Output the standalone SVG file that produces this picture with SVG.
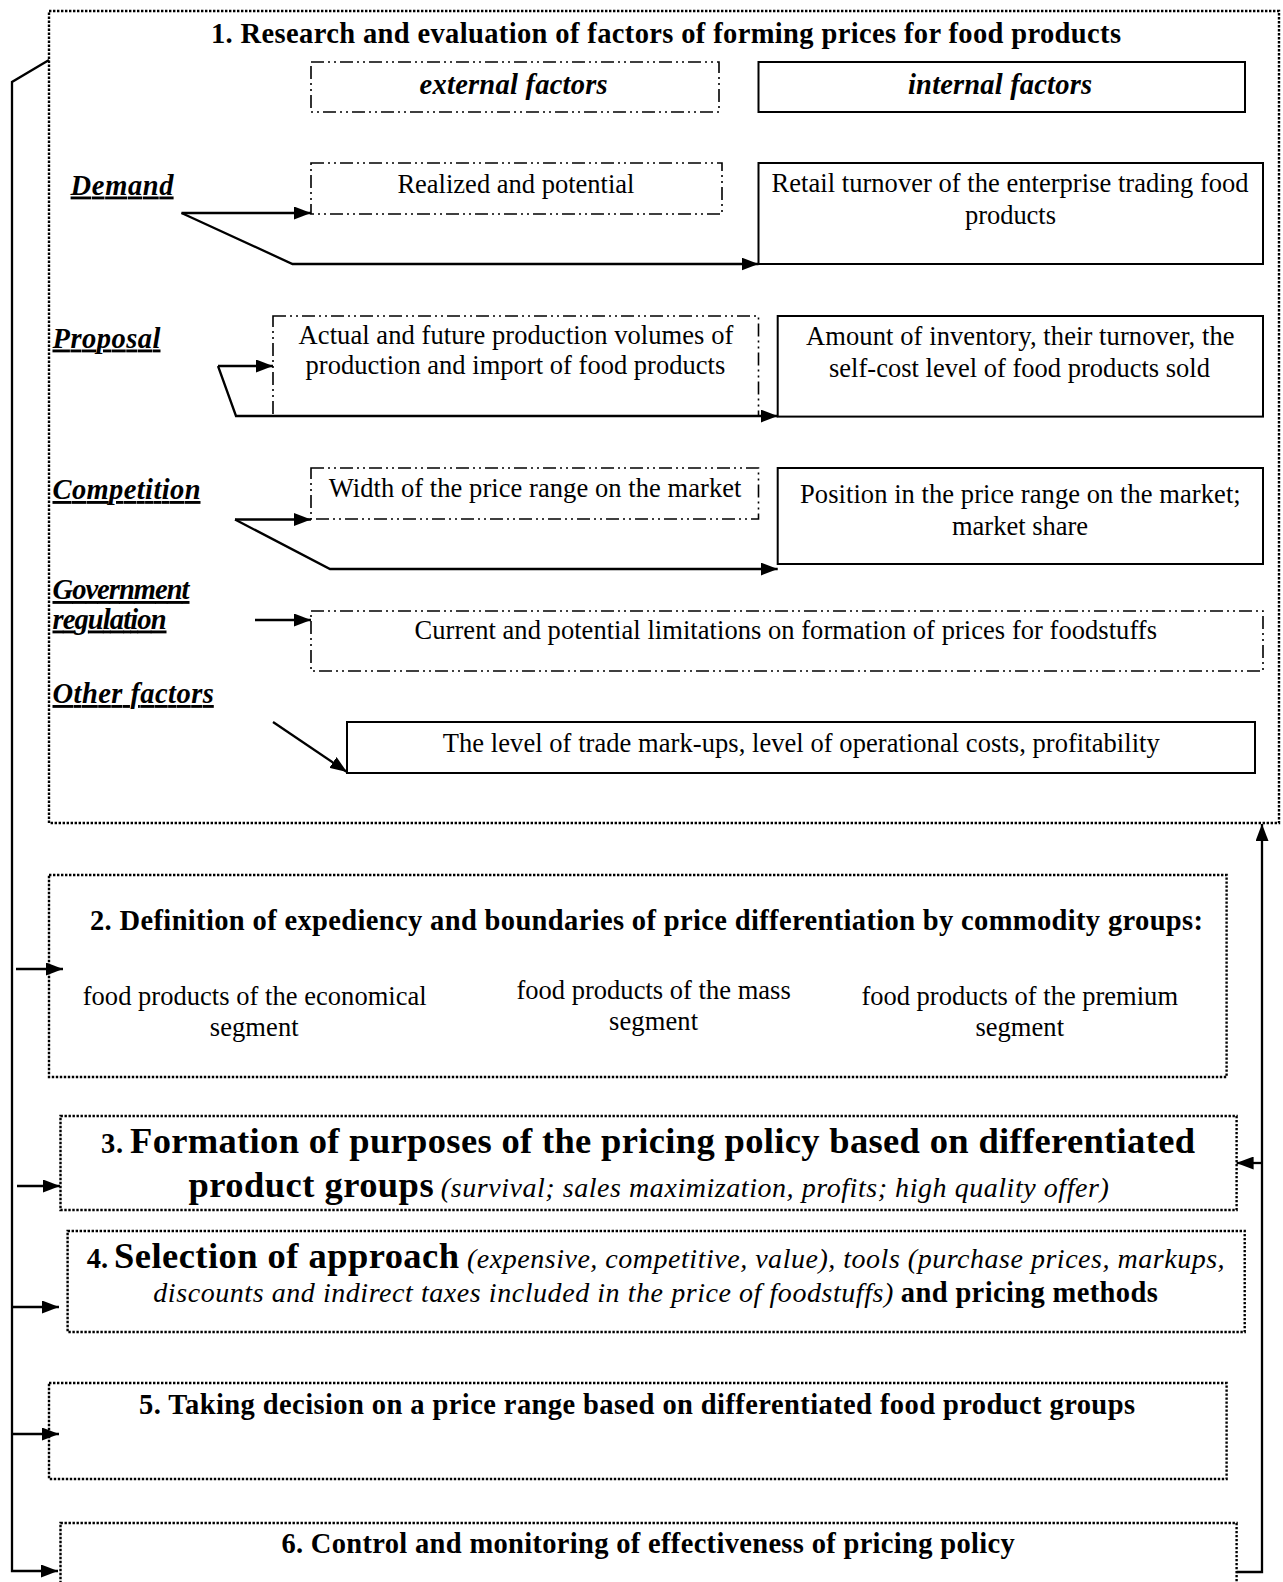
<svg xmlns="http://www.w3.org/2000/svg" width="1283" height="1582" viewBox="0 0 1283 1582">
<style>
.b{font-weight:bold;font-size:28.5px}
.bi{font-weight:bold;font-style:italic;font-size:28.5px}
.u{text-decoration:underline}
.r{font-size:26.5px}
.it{font-style:italic;font-size:28px}
.big{font-weight:bold;font-size:36.5px}
.dot{fill:none;stroke:#000;stroke-width:2.4;stroke-dasharray:2.4 1.6}
.dd{fill:none;stroke:#000;stroke-width:1.6;stroke-dasharray:13 4 2 4 2 4}
.sol{fill:none;stroke:#000;stroke-width:2}
.con{fill:none;stroke:#000;stroke-width:2.3}
</style>
<defs>
<marker id="ah" markerWidth="17" markerHeight="13" refX="17" refY="6.5" orient="auto" markerUnits="userSpaceOnUse"><path d="M0,0 L17,6.5 L0,13 z" fill="#000"/></marker>
</defs>
<rect width="1283" height="1582" fill="#fff"/>
<g font-family="Liberation Serif" fill="#000">
<g id="stage1">
<rect class="dot" x="49" y="11" width="1230" height="812"/>
<text class="b" x="211" y="43" textLength="910">1. Research and evaluation of factors of forming prices for food products</text>
</g>
<g id="external-factors">
<rect class="dd" x="311" y="62" width="408" height="50"/>
<text class="bi" x="419.6" y="94" textLength="188">external factors</text>
</g>
<g id="internal-factors">
<rect class="sol" x="758.5" y="62" width="486.5" height="50"/>
<text class="bi" x="908" y="94" textLength="184">internal factors</text>
</g>
<g id="demand">
<text class="bi u" x="70.6" y="194.5" textLength="103">Demand</text>
</g>
<g id="demand-ext">
<rect class="dd" x="311" y="163" width="411" height="51"/>
<text class="r" x="397.4" y="192.5" textLength="237">Realized and potential</text>
</g>
<g id="demand-int">
<rect class="sol" x="758.5" y="163" width="504.5" height="101"/>
<text class="r" x="771.6" y="191.6" textLength="477">Retail turnover of the enterprise trading food</text>
<text class="r" x="965" y="223.5" textLength="91">products</text>
</g>
<g id="proposal">
<text class="bi u" x="52.5" y="347.5" textLength="108">Proposal</text>
</g>
<g id="proposal-ext">
<rect class="dd" x="273" y="316" width="485.5" height="100"/>
<text class="r" x="298.6" y="343.5" textLength="434.7">Actual and future production volumes of</text>
<text class="r" x="305.6" y="374" textLength="419.7">production and import of food products</text>
</g>
<g id="proposal-int">
<rect class="sol" x="777.7" y="316" width="485.3" height="100.6"/>
<text class="r" x="806" y="345" textLength="428.6">Amount of inventory, their turnover, the</text>
<text class="r" x="829" y="377" textLength="381">self-cost level of food products sold</text>
</g>
<g id="competition">
<text class="bi u" x="52.5" y="499" textLength="148">Competition</text>
</g>
<g id="competition-ext">
<rect class="dd" x="311" y="468" width="447.5" height="51"/>
<text class="r" x="328.8" y="497" textLength="412.6">Width of the price range on the market</text>
</g>
<g id="competition-int">
<rect class="sol" x="777.7" y="468" width="485.3" height="96"/>
<text class="r" x="800" y="502.5" textLength="440.7">Position in the price range on the market;</text>
<text class="r" x="952" y="534.5" textLength="136">market share</text>
</g>
<g id="government">
<text class="bi u" x="52.5" y="599" textLength="137">Government</text>
<text class="bi u" x="52.5" y="628.5" textLength="114">regulation</text>
</g>
<g id="government-ext">
<rect class="dd" x="311" y="611" width="952" height="60"/>
<text class="r" x="414.6" y="638.5" textLength="742.4">Current and potential limitations on formation of prices for foodstuffs</text>
</g>
<g id="other">
<text class="bi u" x="52.5" y="703" textLength="161.3">Other factors</text>
</g>
<g id="other-int">
<rect class="sol" x="347" y="722" width="908" height="51"/>
<text class="r" x="442.8" y="751.5" textLength="717">The level of trade mark-ups, level of operational costs, profitability</text>
</g>

<g id="stage2">
<rect class="dot" x="49" y="875" width="1177.6" height="202"/>
<text class="b" x="90" y="930" textLength="1113">2. Definition of expediency and boundaries of price differentiation by commodity groups:</text>
<text class="r" x="82.7" y="1004.5" textLength="344">food products of the economical</text>
<text class="r" x="209.8" y="1035.5" textLength="88.8">segment</text>
<text class="r" x="516.4" y="998.5" textLength="274.4">food products of the mass</text>
<text class="r" x="609" y="1030" textLength="89">segment</text>
<text class="r" x="861.4" y="1004.5" textLength="316.6">food products of the premium</text>
<text class="r" x="975.4" y="1035.5" textLength="88.6">segment</text>
</g>
<g id="stage3">
<rect class="dot" x="60.5" y="1116" width="1176.1" height="94"/>
<text class="b" x="101" y="1153" textLength="22">3.</text>
<text class="big" x="130" y="1153" textLength="1065">Formation of purposes of the pricing policy based on differentiated</text>
<text class="big" x="188.6" y="1197" textLength="245">product groups</text>
<text class="it" x="440.8" y="1197" textLength="668">(survival; sales maximization, profits; high quality offer)</text>
</g>
<g id="stage4">
<rect class="dot" x="67.6" y="1231" width="1177.1" height="101"/>
<text class="b" x="86.7" y="1268" textLength="21.3">4.</text>
<text class="big" x="114" y="1268" textLength="345">Selection of approach</text>
<text class="it" x="467" y="1268" textLength="757.6">(expensive, competitive, value), tools (purchase prices, markups,</text>
<text class="it" x="153.3" y="1302" textLength="740">discounts and indirect taxes included in the price of foodstuffs)</text>
<text class="b" x="900.8" y="1302" textLength="257">and pricing methods</text>
</g>
<g id="stage5">
<rect class="dot" x="49" y="1383" width="1177.6" height="96"/>
<text class="b" x="139" y="1414" textLength="996">5. Taking decision on a price range based on differentiated food product groups</text>
</g>
<g id="stage6">
<rect class="dot" x="60.5" y="1523" width="1176.1" height="90"/>
<text class="b" x="281.4" y="1553" textLength="733.3">6. Control and monitoring of effectiveness of pricing policy</text>
</g>
</g>
<g id="connectors">
<path class="con" d="M181.5,213 H311" marker-end="url(#ah)"/>
<path class="con" d="M181.5,213 L292.5,264 H758.5" marker-end="url(#ah)"/>
<path class="con" d="M218,366 H273" marker-end="url(#ah)"/>
<path class="con" d="M218,366 L236,416 H777.7" marker-end="url(#ah)"/>
<path class="con" d="M235,519.5 H311" marker-end="url(#ah)"/>
<path class="con" d="M235,519.5 L330,569 H777.7" marker-end="url(#ah)"/>
<path class="con" d="M255,620 H311" marker-end="url(#ah)"/>
<path class="con" d="M273,722 L347,772" marker-end="url(#ah)"/>
<path class="con" d="M49,60 L12,82 V1571 H58" marker-end="url(#ah)"/>
<path class="con" d="M16,969 H63" marker-end="url(#ah)"/>
<path class="con" d="M17,1186 H60" marker-end="url(#ah)"/>
<path class="con" d="M12,1307 H59" marker-end="url(#ah)"/>
<path class="con" d="M12,1434 H59" marker-end="url(#ah)"/>
<path class="con" d="M1236.6,1572 H1262 V824" marker-end="url(#ah)"/>
<path class="con" d="M1262,1163 H1236.6" marker-end="url(#ah)"/>
</g>
</svg>
